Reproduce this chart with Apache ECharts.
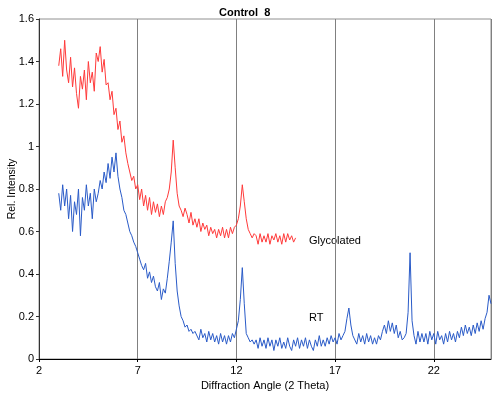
<!DOCTYPE html>
<html>
<head>
<meta charset="utf-8">
<script src="https://cdn.jsdelivr.net/npm/echarts@6/dist/echarts.min.js"></script>
<style>
html,body{margin:0;padding:0;background:#fff;}
#chart{width:500px;height:396px;}
</style>
</head>
<body>
<div id="chart"></div>
<script>
const angleStart = 3.0;
const angleStep = 0.1;
const xTicks = [2, 7, 12, 17, 22];
const yTicks = [0, 0.2, 0.4, 0.6, 0.8, 1, 1.2, 1.4, 1.6];

const glycolated = [
  1.38, 1.46, 1.33, 1.50, 1.36,
  1.30, 1.42, 1.28, 1.37, 1.25,
  1.18, 1.33, 1.27, 1.36, 1.22,
  1.40, 1.30, 1.35, 1.26, 1.44,
  1.40, 1.47, 1.35, 1.41, 1.29,
  1.30, 1.22, 1.26, 1.15, 1.18,
  1.08, 1.12, 1.02, 1.05, 0.97,
  0.92, 0.88, 0.84, 0.86, 0.80,
  0.82, 0.75, 0.80, 0.72, 0.77,
  0.70, 0.76, 0.68, 0.74, 0.69,
  0.73, 0.67, 0.72, 0.68, 0.74,
  0.76, 0.80, 0.88, 1.03, 0.90,
  0.78, 0.72, 0.70, 0.67, 0.71,
  0.68, 0.64, 0.69, 0.63, 0.66,
  0.62, 0.66, 0.60, 0.64, 0.61,
  0.63, 0.58, 0.62, 0.59, 0.61,
  0.57, 0.61, 0.58, 0.62, 0.57,
  0.61, 0.57, 0.62, 0.59, 0.62,
  0.63, 0.66, 0.72, 0.82, 0.74,
  0.66, 0.61, 0.59, 0.57, 0.59,
  0.58, 0.54, 0.59, 0.55, 0.58,
  0.55, 0.59, 0.54, 0.58, 0.56,
  0.59, 0.55, 0.58, 0.54, 0.59,
  0.55, 0.59, 0.56, 0.58, 0.55,
  0.57
];

const rt = [
  0.78, 0.70, 0.82, 0.72, 0.80,
  0.66, 0.77, 0.60, 0.74, 0.68,
  0.80, 0.58, 0.76, 0.70, 0.82,
  0.72, 0.78, 0.66, 0.80, 0.74,
  0.78, 0.84, 0.80, 0.88, 0.83,
  0.92, 0.85, 0.95, 0.88, 0.97,
  0.86, 0.80, 0.76, 0.70, 0.68,
  0.64, 0.60, 0.58, 0.55, 0.53,
  0.50, 0.47, 0.44, 0.42, 0.45,
  0.38, 0.41, 0.36, 0.39, 0.34,
  0.32, 0.36, 0.28, 0.33, 0.31,
  0.38, 0.46, 0.55, 0.65, 0.45,
  0.32, 0.25, 0.20, 0.18, 0.15,
  0.16, 0.13, 0.14, 0.12, 0.13,
  0.13, 0.09, 0.14, 0.10, 0.12,
  0.08, 0.13, 0.09, 0.12, 0.08,
  0.11, 0.07, 0.12, 0.08, 0.11,
  0.07, 0.11, 0.08, 0.12, 0.10,
  0.14, 0.18, 0.28, 0.43, 0.26,
  0.12, 0.10, 0.08, 0.09, 0.07,
  0.09, 0.05, 0.10, 0.06, 0.09,
  0.05, 0.10, 0.06, 0.09, 0.04,
  0.09, 0.06, 0.10, 0.05, 0.08,
  0.05, 0.10, 0.06, 0.04, 0.09,
  0.06, 0.10, 0.05, 0.09, 0.06,
  0.10, 0.05, 0.09, 0.06, 0.04,
  0.09, 0.06, 0.11, 0.06, 0.09,
  0.06, 0.10, 0.07, 0.11, 0.08,
  0.10, 0.07, 0.12, 0.09, 0.11,
  0.13, 0.19, 0.24, 0.16, 0.11,
  0.11, 0.07, 0.12, 0.08, 0.11,
  0.07, 0.12, 0.08, 0.11, 0.07,
  0.10, 0.07, 0.11, 0.09, 0.13,
  0.16, 0.12, 0.18, 0.13, 0.17,
  0.12, 0.16, 0.10, 0.13, 0.09,
  0.10, 0.12, 0.22, 0.50, 0.18,
  0.11, 0.07, 0.13, 0.08, 0.12,
  0.08, 0.12, 0.07, 0.13, 0.09,
  0.12, 0.07, 0.13, 0.09, 0.11,
  0.07, 0.12, 0.08, 0.13, 0.09,
  0.12, 0.08, 0.13, 0.10, 0.15,
  0.11, 0.16, 0.12, 0.15, 0.11,
  0.16, 0.12, 0.17, 0.13, 0.18,
  0.14, 0.19, 0.22, 0.30, 0.26
];

function toPairs(vals) {
  return vals.map((v, i) => [Math.round((angleStart + i * angleStep) * 10) / 10, v]);
}

const FONT = '"Liberation Sans", Arial, sans-serif';
const chart = echarts.init(document.getElementById('chart'), null, {renderer: 'canvas'});
chart.setOption({
  animation: false,
  backgroundColor: '#ffffff',
  title: {
    text: 'Control  8',
    left: 214,
    top: 2,
    textStyle: {fontFamily: FONT, fontSize: 11, fontWeight: 'bold', color: '#000'}
  },
  grid: {
    left: 39, top: 19, right: 9, bottom: 37,
    containLabel: false,
    outerBoundsMode: 'none',
    show: true, borderColor: '#909090', borderWidth: 1, backgroundColor: 'transparent'
  },
  xAxis: {
    type: 'value',
    min: xTicks[0],
    max: 24.9,
    interval: xTicks[1] - xTicks[0],
    name: 'Diffraction Angle (2 Theta)',
    nameLocation: 'middle',
    nameGap: 20,
    nameTextStyle: {fontFamily: FONT, fontSize: 11, color: '#000'},
    axisLine: {lineStyle: {color: '#000', width: 1}},
    axisTick: {show: true, length: 3, lineStyle: {color: '#000'}},
    axisLabel: {fontFamily: FONT, fontSize: 11, color: '#000', margin: 6, showMaxLabel: false,
      formatter: v => (xTicks.indexOf(Math.round(v * 10) / 10) >= 0 ? String(v) : '')},
    splitLine: {show: true, lineStyle: {color: '#808080', width: 1}}
  },
  yAxis: {
    type: 'value',
    min: yTicks[0],
    max: yTicks[yTicks.length - 1],
    interval: 0.2,
    axisLine: {show: true, lineStyle: {color: '#333', width: 1}},
    axisTick: {show: true, length: 3, lineStyle: {color: '#333'}},
    axisLabel: {fontFamily: FONT, fontSize: 11, color: '#000', margin: 5,
      formatter: v => String(Math.round(v * 10) / 10)},
    splitLine: {show: false}
  },
  graphic: [
    {type: 'text', x: 12, y: 189, rotation: Math.PI / 2,
      style: {text: 'Rel. Intensity', font: '10.5px ' + FONT, fill: '#000', align: 'center', verticalAlign: 'middle'}},
    {type: 'text', left: 309, top: 235, style: {text: 'Glycolated', font: '11px ' + FONT, fill: '#000'}},
    {type: 'text', left: 309, top: 312, style: {text: 'RT', font: '11px ' + FONT, fill: '#000'}}
  ],
  series: [
    {
      name: 'Glycolated', type: 'line', data: toPairs(glycolated),
      showSymbol: false, symbol: 'none',
      lineStyle: {color: '#ff3a3a', width: 1}
    },
    {
      name: 'RT', type: 'line', data: toPairs(rt),
      showSymbol: false, symbol: 'none',
      lineStyle: {color: '#2a5bc8', width: 1}
    }
  ]
});
</script>
</body>
</html>
